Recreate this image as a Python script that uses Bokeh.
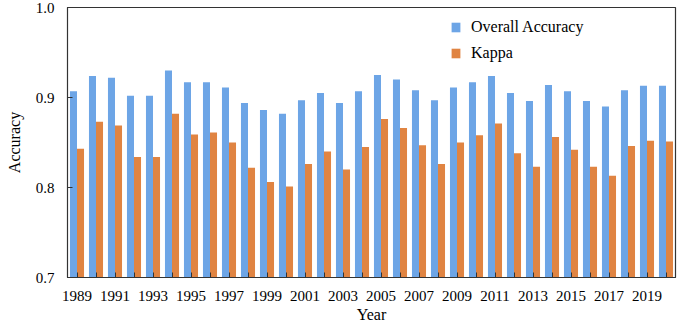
from bokeh.plotting import figure
from bokeh.models import ColumnDataSource, FixedTicker, Range1d, Legend, LegendItem, Title
from bokeh.transform import dodge
from bokeh.embed import file_html
from bokeh.resources import INLINE

years = list(range(1989, 2021))
overall_accuracy = [0.907, 0.924, 0.922, 0.902, 0.902, 0.930, 0.917, 0.917, 0.911, 0.894,
                    0.886, 0.882, 0.897, 0.905, 0.894, 0.907, 0.925, 0.920, 0.908, 0.897,
                    0.911, 0.917, 0.924, 0.905, 0.896, 0.914, 0.907, 0.896, 0.890, 0.908,
                    0.913, 0.913]
kappa = [0.843, 0.873, 0.869, 0.834, 0.834, 0.882, 0.859, 0.861, 0.850, 0.822,
         0.806, 0.801, 0.826, 0.840, 0.820, 0.845, 0.876, 0.866, 0.847, 0.826,
         0.850, 0.858, 0.871, 0.838, 0.823, 0.856, 0.842, 0.823, 0.813, 0.846,
         0.852, 0.851]
y_ticks = [0.7, 0.8, 0.9, 1.0]
y_labels = ["0.7", "0.8", "0.9", "1.0"]

src = ColumnDataSource(dict(year=years, oa=overall_accuracy, kappa=kappa))

FONT = "Liberation Serif"
p = figure(width=678, height=322, output_backend="svg", toolbar_location=None,
           x_range=Range1d(1988.5, 2020.5), y_range=Range1d(0.7, 1.0))
p.min_border_left = 67
p.min_border_right = 3
p.min_border_top = 7
p.min_border_bottom = 0
p.grid.visible = False
p.outline_line_color = "#333333"
p.outline_line_width = 1.2

bw = 0.37
r1 = p.vbar(x=dodge("year", -0.185, range=p.x_range), top="oa", bottom=0.7, width=bw,
            source=src, fill_color="#6DA5E6", line_color=None)
r2 = p.vbar(x=dodge("year", 0.185, range=p.x_range), top="kappa", bottom=0.7, width=bw,
            source=src, fill_color="#E08442", line_color=None)

xa = p.xaxis[0]
xa.ticker = FixedTicker(ticks=years)
xa.major_label_overrides = {y: (str(y) if (y - 1989) % 2 == 0 else "") for y in years}
xa.major_tick_in = 5
xa.major_tick_out = 0
xa.minor_tick_line_color = None
xa.major_label_standoff = 13

ya = p.yaxis[0]
ya.ticker = FixedTicker(ticks=y_ticks)
ya.major_label_overrides = {t: l for t, l in zip(y_ticks, y_labels)}
ya.major_tick_in = 5
ya.major_tick_out = 0
ya.minor_tick_line_color = None
ya.axis_label = "Accuracy"
ya.major_label_standoff = 13
ya.axis_label_standoff = 10

for ax in (xa, ya):
    ax.axis_line_color = "#333333"
    ax.major_tick_line_color = "#333333"
    ax.major_label_text_font = FONT
    ax.major_label_text_font_size = "15px"
    ax.major_label_text_color = "black"
    ax.axis_label_text_font = FONT
    ax.axis_label_text_font_size = "16px"
    ax.axis_label_text_font_style = "normal"
    ax.axis_label_text_color = "black"

xtitle = Title(text="Year", align="center", text_font=FONT, text_font_size="16px",
               text_font_style="normal", text_color="black", standoff=0, offset=0)
p.add_layout(xtitle, "below")

legend = Legend(items=[LegendItem(label="Overall Accuracy", renderers=[r1]),
                       LegendItem(label="Kappa", renderers=[r2])],
                location=(383, 215))
legend.border_line_color = None
legend.background_fill_alpha = 0
legend.padding = 0
legend.margin = 0
legend.glyph_width = 11
legend.glyph_height = 12
legend.label_height = 12
legend.spacing = 8
legend.label_standoff = 10
legend.label_text_font = FONT
legend.label_text_font_size = "16px"
legend.label_text_color = "black"
p.add_layout(legend)

open("out.html", "w").write(file_html(p, INLINE))
